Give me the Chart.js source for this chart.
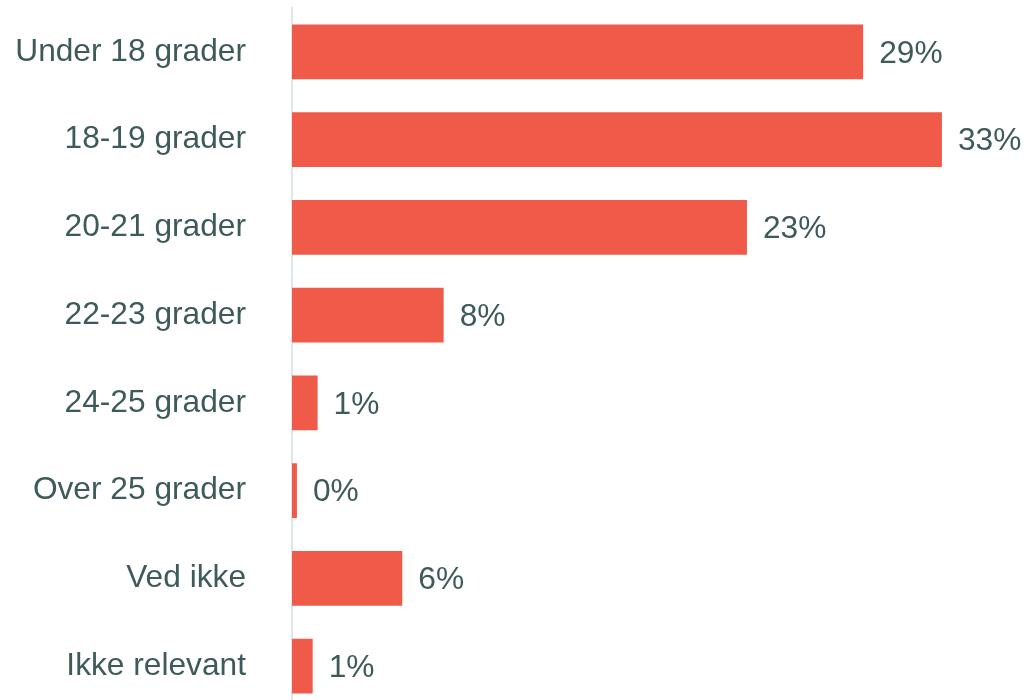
<!DOCTYPE html>
<html>
<head>
<meta charset="utf-8">
<script src="https://cdn.jsdelivr.net/npm/chart.js@4/dist/chart.umd.min.js"></script>
<style>
html,body{margin:0;padding:0;background:#fff;overflow:hidden;width:1028px;height:700px;}
#wrap{position:absolute;left:0;top:0;width:1028px;height:710px;}
</style>
</head>
<body>
<div id="wrap"><canvas id="c" width="1028" height="710"></canvas></div>
<script>
const categories = ["Under 18 grader","18-19 grader","20-21 grader","22-23 grader","24-25 grader","Over 25 grader","Ved ikke","Ikke relevant"];
const values = [29, 33, 23.1, 7.7, 1.3, 0.25, 5.6, 1.05];
const valueLabels = ["29%","33%","23%","8%","1%","0%","6%","1%"];

const textColor = "#3f5a5a";
const fontFamily = "'Liberation Sans', Arial, sans-serif";
const fontSize = 31.7;

const valueLabelPlugin = {
  id: 'valueLabels',
  afterDatasetsDraw(chart) {
    const ctx = chart.ctx;
    const meta = chart.getDatasetMeta(0);
    ctx.save();
    ctx.fillStyle = textColor;
    ctx.font = fontSize + "px " + fontFamily;
    ctx.textAlign = 'left';
    ctx.textBaseline = 'middle';
    meta.data.forEach((bar, i) => {
      ctx.fillText(valueLabels[i], bar.x + 16, bar.y + 2);
    });
    ctx.restore();
  }
};

new Chart(document.getElementById('c'), {
  type: 'bar',
  data: {
    labels: categories,
    datasets: [{
      data: values,
      backgroundColor: '#EF5B48',
      borderWidth: 0,
      barPercentage: 0.78,
      categoryPercentage: 0.8
    }]
  },
  options: {
    indexAxis: 'y',
    responsive: false,
    animation: false,
    events: [],
    layout: { padding: { top: 8, right: 27, bottom: 0, left: 0 } },
    plugins: { legend: { display: false }, tooltip: { enabled: false } },
    scales: {
      x: {
        display: false,
        min: 0,
        max: 36
      },
      y: {
        grid: { display: false, drawTicks: false },
        border: { display: true, color: '#dde7e9', width: 2 },
        ticks: {
          color: textColor,
          padding: 46,
          font: { family: fontFamily, size: fontSize }
        },
        afterFit(scale) { scale.width = 292; scale.paddingTop = 0; scale.paddingBottom = 0; }
      }
    }
  },
  plugins: [valueLabelPlugin]
});
</script>
</body>
</html>
